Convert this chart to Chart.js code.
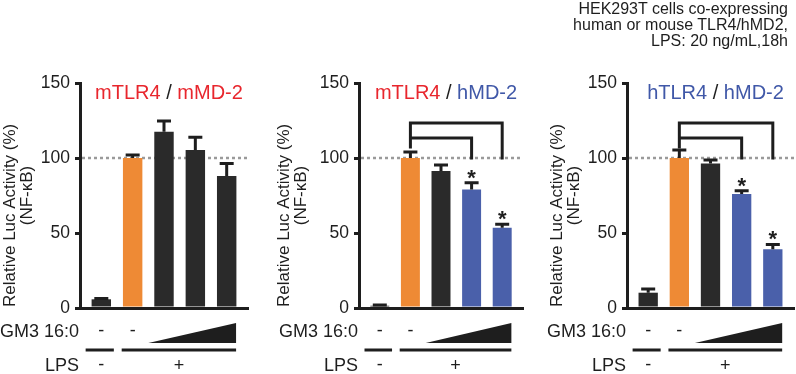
<!DOCTYPE html>
<html>
<head>
<meta charset="utf-8">
<script src="https://cdn.jsdelivr.net/npm/chart.js@4/dist/chart.umd.min.js"></script>
<style>
  body { margin: 0; background: #fff; }
  #wrap { position: relative; width: 796px; height: 374px; overflow: hidden; font-family: "Liberation Sans", Arial, sans-serif; }
  canvas { position: absolute; top: 0; }
  #note { position: absolute; right: 8px; top: 1px; text-align: right; font-size: 16px; line-height: 16px; color: #1e1e1e; }
</style>
</head>
<body>
<div id="wrap">
  <canvas id="panel1" width="250" height="374" style="left:0;width:250px;height:374px"></canvas>
  <canvas id="panel2" width="257" height="374" style="left:268px;width:257px;height:374px"></canvas>
  <canvas id="panel3" width="260" height="374" style="left:536px;width:260px;height:374px"></canvas>
  <div id="note">HEK293T cells co-expressing<br>human or mouse TLR4/hMD2,<br>LPS: 20 ng/mL,18h</div>
</div>
<script>
const FONT = '"Liberation Sans", Arial, Helvetica, sans-serif';
const DARK = '#2a2a2a', ORANGE = '#ee8a35', BLUE = '#4a60aa';
const RED_TEXT = '#e8262d', BLUE_TEXT = '#4058a8', INK = '#1e1e1e';

// same 5 conditions in every panel
const categories = ['LPS -, GM3 -', 'LPS +, GM3 -', 'LPS +, GM3 low', 'LPS +, GM3 mid', 'LPS +, GM3 high'];
const gm3Marks = ['-', '-'];   // first two conditions, then the dose ramp
const lpsMarks = ['-', '+'];
const yTicks = [0, 50, 100, 150];
const referenceLevel = 100;

// mTLR4 / mMD-2
const mmValues = [5.8, 100, 117.5, 105.3, 88];
const mmSem    = [0.5, 2, 7.2, 8.5, 8.4];
const mmSig    = [false, false, false, false, false];

// mTLR4 / hMD-2
const mhValues = [1.5, 100, 91.3, 79, 53.5];
const mhSem    = [0.5, 4, 4, 4.5, 2.3];
const mhSig    = [false, false, false, true, true];

// hTLR4 / hMD-2
const hhValues = [10.2, 100, 96.4, 76, 39.1];
const hhSem    = [2.5, 5.3, 2.3, 2.2, 3.3];
const hhSig    = [false, false, false, true, true];

// pairs compared to LPS alone (index 1)
const comparisons = [[1, 3], [1, 4]];

function makePanel(canvasId, p) {
  const decor = {
    id: 'decor',
    beforeDatasetsDraw(chart) {
      // dotted 100% line
      const { ctx, chartArea: a, scales: { y } } = chart;
      const yy = y.getPixelForValue(referenceLevel);
      ctx.save();
      ctx.strokeStyle = '#9a9a9a';
      ctx.lineWidth = 2.5;
      ctx.setLineDash([3, 3]);
      ctx.beginPath();
      ctx.moveTo(a.left + 2, yy);
      ctx.lineTo(a.right, yy);
      ctx.stroke();
      ctx.restore();
    },
    afterDatasetsDraw(chart) {
      const { ctx, scales: { y } } = chart;
      const bars = chart.getDatasetMeta(0).data;
      ctx.save();
      ctx.strokeStyle = INK;
      ctx.fillStyle = INK;
      ctx.lineWidth = 3;
      // error bars (upper half only)
      bars.forEach((bar, i) => {
        const top = y.getPixelForValue(p.values[i] + p.sem[i]);
        ctx.beginPath();
        ctx.moveTo(bar.x, bar.y);
        ctx.lineTo(bar.x, top);
        ctx.moveTo(bar.x - 7, top);
        ctx.lineTo(bar.x + 7, top);
        ctx.stroke();
        if (p.sig[i]) {
          ctx.font = `bold 22px ${FONT}`;
          ctx.textAlign = 'center';
          ctx.textBaseline = 'alphabetic';
          ctx.fillText('*', bar.x, top + 2);
        }
      });
      // brackets
      if (p.brackets) {
        const y100 = y.getPixelForValue(referenceLevel);
        const levels = [y100 - 20, y100 - 35];
        ctx.lineCap = 'square';
        ctx.beginPath();
        const x0 = bars[comparisons[0][0]].x;
        ctx.moveTo(x0, y100 - 11);
        ctx.lineTo(x0, y100 - 35);
        comparisons.forEach(([from, to], k) => {
          const x2 = bars[to].x;
          ctx.moveTo(bars[from].x, levels[k]);
          ctx.lineTo(x2, levels[k]);
          ctx.lineTo(x2, y100);
        });
        ctx.stroke();
      }
      ctx.restore();
    },
    afterDraw(chart) {
      const { ctx, chartArea: a, scales: { x } } = chart;
      ctx.save();
      // panel title, two colours
      ctx.font = `20px ${FONT}`;
      ctx.textBaseline = 'middle';
      ctx.textAlign = 'left';
      const total = p.title.reduce((s, t) => s + ctx.measureText(t[0]).width, 0);
      let tx = (a.left + a.right) / 2 + 5 - total / 2;
      p.title.forEach(([txt, col]) => {
        ctx.fillStyle = col;
        ctx.fillText(txt, tx, a.top + 10);
        tx += ctx.measureText(txt).width;
      });

      // y axis label
      ctx.fillStyle = INK;
      ctx.font = `17px ${FONT}`;
      ctx.save();
      ctx.translate(a.left - 70 + p.labelShift, a.bottom - 1);
      ctx.rotate(-Math.PI / 2);
      ctx.textAlign = 'left';
      ctx.fillText('Relative Luc Activity (%)', 0, 0);
      ctx.restore();
      ctx.save();
      ctx.translate(a.left - 53 + p.labelShift, (a.top + a.bottom) / 2);
      ctx.rotate(-Math.PI / 2);
      ctx.textAlign = 'center';
      ctx.fillText('(NF-\u03BAB)', 0, 0);
      ctx.restore();

      // treatment rows under the axis
      const b = a.bottom;
      const px = v => x.getPixelForValue(v);
      ctx.font = `18px ${FONT}`;
      ctx.textAlign = 'right';
      ctx.fillText('GM3 16:0', a.left - 1, b + 24);
      ctx.fillText('LPS', a.left - 1, b + 58);
      ctx.textAlign = 'center';
      gm3Marks.forEach((m, i) => ctx.fillText(m, px(i), b + 23));
      ctx.beginPath();
      ctx.moveTo(px(1.5), b + 35);
      ctx.lineTo(px(4.3), b + 35);
      ctx.lineTo(px(4.3), b + 15);
      ctx.closePath();
      ctx.fill();
      ctx.strokeStyle = INK;
      ctx.lineWidth = 3;
      ctx.beginPath();
      ctx.moveTo(px(-0.5), b + 42);
      ctx.lineTo(px(0.4), b + 42);
      ctx.moveTo(px(0.65), b + 42);
      ctx.lineTo(px(4.3), b + 42);
      ctx.stroke();
      ctx.fillText(lpsMarks[0], px(0), b + 57);
      ctx.fillText(lpsMarks[1], px((0.65 + 4.3) / 2), b + 58);
      ctx.restore();
    }
  };

  return new Chart(document.getElementById(canvasId), {
    type: 'bar',
    data: {
      datasets: [{
        label: p.name,
        data: p.values.map((v, i) => ({ x: i, y: v, label: categories[i] })),
        backgroundColor: p.colors,
        borderWidth: 0,
        categoryPercentage: 1,
        barPercentage: 0.62,
      }],
    },
    options: {
      responsive: false,
      animation: false,
      devicePixelRatio: 1,
      layout: { padding: { top: 83, bottom: 66, left: 0, right: 2 } },
      plugins: { legend: { display: false }, tooltip: { enabled: false } },
      scales: {
        x: {
          type: 'linear',
          offset: false,
          min: -0.68,
          max: 4.68,
          ticks: { display: false },
          grid: { display: false, drawTicks: false },
          border: { display: true, width: 3, color: INK },
        },
        y: {
          min: 0,
          max: 150,
          afterFit: s => { s.width = p.axisWidth; },
          afterBuildTicks: s => { s.ticks = yTicks.map(v => ({ value: v })); },
          ticks: { font: { family: FONT, size: 17.5 }, color: INK, padding: 5 },
          grid: { drawOnChartArea: false, drawTicks: true, tickLength: 5, lineWidth: 3, color: INK },
          border: { display: true, width: 3, color: INK },
        },
      },
    },
    plugins: [decor],
  });
}

makePanel('panel1', {
  name: 'mTLR4 / mMD-2', values: mmValues, sem: mmSem, sig: mmSig, brackets: false,
  colors: [DARK, ORANGE, DARK, DARK, DARK],
  title: [['mTLR4', RED_TEXT], [' / ', INK], ['mMD-2', RED_TEXT]],
  axisWidth: 80, labelShift: 0,
});
makePanel('panel2', {
  name: 'mTLR4 / hMD-2', values: mhValues, sem: mhSem, sig: mhSig, brackets: true,
  colors: [DARK, ORANGE, DARK, BLUE, BLUE],
  title: [['mTLR4', RED_TEXT], [' / ', INK], ['hMD-2', BLUE_TEXT]],
  axisWidth: 91, labelShift: -5,
});
makePanel('panel3', {
  name: 'hTLR4 / hMD-2', values: hhValues, sem: hhSem, sig: hhSig, brackets: true,
  colors: [DARK, ORANGE, DARK, BLUE, BLUE],
  title: [['hTLR4', BLUE_TEXT], [' / ', INK], ['hMD-2', BLUE_TEXT]],
  axisWidth: 91, labelShift: 0,
});
</script>
</body>
</html>
